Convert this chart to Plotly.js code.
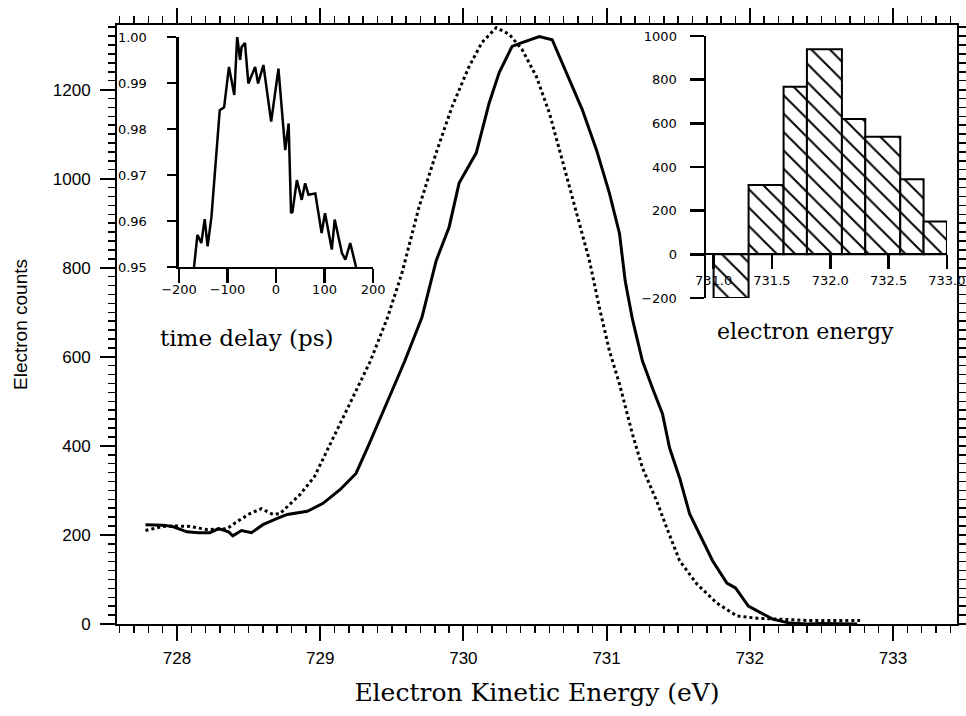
<!DOCTYPE html>
<html>
<head>
<meta charset="utf-8">
<script src="https://cdn.plot.ly/plotly-3.0.1.min.js"></script>
<style>html,body{margin:0;padding:0;background:#fff;}#chart{width:966px;height:716px;}</style>
</head>
<body>
<div id="chart"></div>
<script>
// Main spectrum: solid curve
const energySolid = [727.78,727.90,727.97,728.07,728.15,728.23,728.29,728.36,728.39,728.45,728.52,728.60,728.70,728.77,728.91,729.02,729.14,729.25,729.34,729.47,729.59,729.71,729.81,729.90,729.97,730.09,730.18,730.25,730.34,730.39,730.53,730.62,730.72,730.83,730.93,731.02,731.09,731.13,731.18,731.25,731.32,731.39,731.44,731.51,731.58,731.65,731.74,731.84,731.90,731.99,732.09,732.16,732.28,732.40,732.50,732.60,732.75];
const countsSolid = [223,222,219,207,205,205,214,207,198,210,205,223,237,246,253,271,302,338,403,500,590,688,816,891,990,1058,1170,1238,1297,1303,1319,1312,1238,1155,1064,967,877,770,685,591,530,472,395,328,247,202,142,92,81,40,22,11,2,0,1,0,0];
// Main spectrum: dotted curve
const energyDotted = [727.78,727.90,728.00,728.09,728.21,728.35,728.42,728.51,728.59,728.67,728.72,728.86,728.96,729.07,729.20,729.35,729.47,729.57,729.69,729.81,729.92,730.04,730.13,730.23,730.32,730.41,730.51,730.60,730.69,730.79,730.88,730.95,731.02,731.09,731.18,731.25,731.35,731.42,731.51,731.63,731.77,731.91,732.05,732.19,732.40,732.60,732.77];
const countsDotted = [210,219,220,219,212,214,230,248,259,246,248,291,331,403,490,590,688,787,936,1058,1161,1252,1306,1339,1324,1290,1229,1148,1042,922,816,710,613,539,427,351,276,216,142,90,47,18,13,11,8,8,8];
// Left inset: time delay scan
const delayPs = [-169,-162,-154,-147,-141,-133,-116,-107,-97,-86,-80,-74,-71,-64,-57,-43,-37,-26,-10,5,19,26,31,34,43,53,60,67,81,94,101,115,121,136,143,153,165];
const insetSignal = [0.950,0.957,0.9552,0.9604,0.9545,0.961,0.9841,0.9847,0.9935,0.9874,1.0001,0.995,0.9978,0.9987,0.9899,0.9935,0.9899,0.9939,0.9816,0.9931,0.9754,0.9812,0.9617,0.962,0.9689,0.9646,0.9682,0.9657,0.966,0.9574,0.9617,0.9538,0.9603,0.953,0.9516,0.9552,0.950];
// Right inset: histogram of electron energy
const binLeft = [731.0,731.3,731.6,731.8,732.1,732.3,732.6,732.8];
const binRight = [731.3,731.6,731.8,732.1,732.3,732.6,732.8,733.0];
const binCounts = [-200,318,768,939,620,539,344,150];

const binCenter = binLeft.map((l,i)=>(l+binRight[i])/2);
const binWidth = binLeft.map((l,i)=>binRight[i]-l);

const sans = 'Liberation Sans, Arial, sans-serif';
const dsans = 'DejaVu Sans, sans-serif';
const serif = 'DejaVu Serif, serif';

const traces = [
  {x: energySolid, y: countsSolid, type:'scatter', mode:'lines', line:{color:'black', width:3}, xaxis:'x', yaxis:'y', hoverinfo:'skip'},
  {x: energyDotted, y: countsDotted, type:'scatter', mode:'lines', line:{color:'black', width:3, dash:'dot'}, xaxis:'x', yaxis:'y', hoverinfo:'skip'},
  {x: delayPs, y: insetSignal, type:'scatter', mode:'lines', line:{color:'black', width:2.5}, xaxis:'x2', yaxis:'y2', hoverinfo:'skip'},
  {x: binCenter, y: binCounts, width: binWidth, type:'bar', xaxis:'x3', yaxis:'y3',
   marker:{color:'white', line:{color:'black', width:2}, pattern:{shape:'\\', fgcolor:'black', bgcolor:'white', size:13, solidity:0.15}}, hoverinfo:'skip'}
];

const mainAxisCommon = {showline:true, linecolor:'black', linewidth:2, mirror:'allticks', ticks:'outside', tickcolor:'black', tickwidth:2, ticklen:15, showgrid:false, zeroline:false, tickfont:{family:sans, size:17, color:'black'}};

const layout = {
  width:966, height:716,
  margin:{l:117, r:9, t:25, b:92},
  paper_bgcolor:'white', plot_bgcolor:'white',
  showlegend:false,
  bargap:0,
  xaxis: Object.assign({}, mainAxisCommon, {
    range:[727.581, 733.447], tick0:728, dtick:1, ticklabelstandoff:3,
    minor:{dtick:0.1, ticks:'outside', ticklen:7, tickwidth:1.5, tickcolor:'black', showgrid:false},
    title:{text:'Electron Kinetic Energy (eV)', font:{family:serif, size:25, color:'black'}, standoff:16}
  }),
  yaxis: Object.assign({}, mainAxisCommon, {
    range:[0, 1345], tick0:0, dtick:200, ticklabelstandoff:6,
    minor:{dtick:20, ticks:'outside', ticklen:7, tickwidth:1.5, tickcolor:'black', showgrid:false},
    title:{text:'Electron counts', font:{family:sans, size:19, color:'black'}, standoff:20}
  }),
  xaxis2: {domain:[0.0738, 0.3048], anchor:'y2', range:[-200,200], tick0:-200, dtick:100, showline:true, linecolor:'black', linewidth:2.5, ticks:'outside', ticklen:14, tickwidth:2.5, tickcolor:'black', showgrid:false, zeroline:false, tickfont:{family:dsans, size:13, color:'black'}, ticklabelstandoff:-5},
  yaxis2: {domain:[0.596, 0.98], anchor:'x2', range:[0.95,1.0], tick0:0.95, dtick:0.01, tickformat:'.2f', showline:true, linecolor:'black', linewidth:2.5, ticks:'outside', ticklen:9, tickwidth:2.5, tickcolor:'black', showgrid:false, zeroline:false, tickfont:{family:dsans, size:13, color:'black'}, ticklabelstandoff:18},
  xaxis3: {domain:[0.7012, 0.988], anchor:'free', position:0.6177, range:[730.935, 733.0], tick0:731, dtick:0.5, tickformat:'.1f', showline:true, linecolor:'black', linewidth:2.5, ticks:'outside', ticklen:14, tickwidth:2.5, tickcolor:'black', showgrid:false, zeroline:false, tickfont:{family:dsans, size:13, color:'black'}, ticklabelstandoff:0},
  yaxis3: {domain:[0.5442, 0.9816], anchor:'x3', range:[-200,1000], tick0:-200, dtick:200, showline:true, linecolor:'black', linewidth:2.5, ticks:'outside', ticklen:14, tickwidth:2.5, tickcolor:'black', showgrid:false, zeroline:false, tickfont:{family:dsans, size:13, color:'black'}, ticklabelstandoff:10},
  annotations:[
    {text:'time delay (ps)', xref:'paper', yref:'paper', x:0.1548, y:0.4775, showarrow:false, xanchor:'center', yanchor:'middle', font:{family:serif, size:23, color:'black'}},
    {text:'electron energy', xref:'paper', yref:'paper', x:0.820, y:0.4875, showarrow:false, xanchor:'center', yanchor:'middle', font:{family:serif, size:22, color:'black'}}
  ]
};

Plotly.newPlot('chart', traces, layout, {displayModeBar:false, staticPlot:true});
</script>
</body>
</html>
